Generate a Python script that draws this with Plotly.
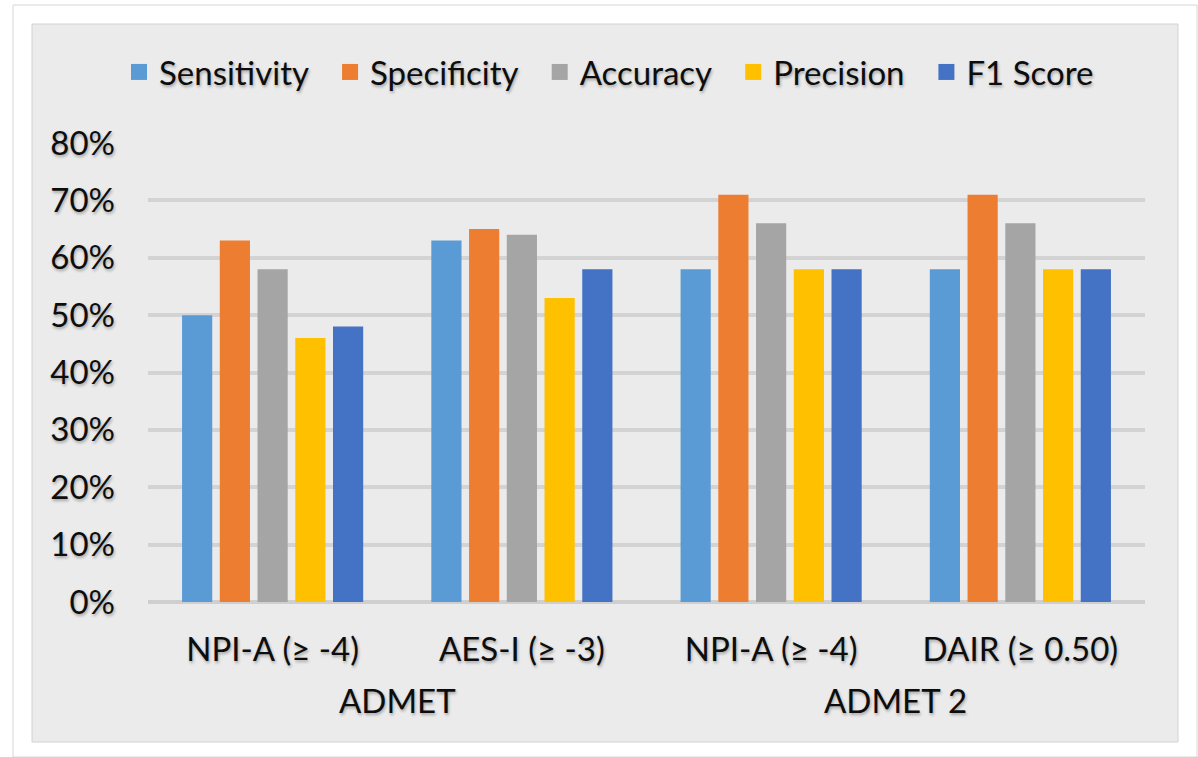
import plotly.graph_objects as go

# Model / endpoint groups and their thresholds
groups = ["ADMET", "ADMET", "ADMET 2", "ADMET 2"]
endpoints = ["NPI-A (≥ -4)", "AES-I (≥ -3)", "NPI-A (≥ -4)", "DAIR (≥ 0.50)"]

# Metric values (fractions)
sensitivity = [0.50, 0.63, 0.58, 0.58]
specificity = [0.63, 0.65, 0.71, 0.71]
accuracy = [0.58, 0.64, 0.66, 0.66]
precision = [0.46, 0.53, 0.58, 0.58]
f1_score = [0.48, 0.58, 0.58, 0.58]

y_ticks = [0, 0.1, 0.2, 0.3, 0.4, 0.5, 0.6, 0.7, 0.8]
y_tick_text = ["0%", "10%", "20%", "30%", "40%", "50%", "60%", "70%", "80%"]

series = [
    ("Sensitivity", sensitivity, "#5B9BD5"),
    ("Specificity", specificity, "#ED7D31"),
    ("Accuracy", accuracy, "#A5A5A5"),
    ("Precision", precision, "#FFC000"),
    ("F1 Score", f1_score, "#4472C4"),
]

W, H = 1198, 757
L, R, T, B = 148, 1145, 143, 602
PW, PH = R - L, B - T


def px_x(px):
    return (px - L) / PW


def px_y(py):
    return (B - py) / PH


FONT = "Lato, 'Open Sans', sans-serif"
FS = 33
TXT = "#0d0d0d"
SHADOW = "1px 2px 3px rgba(0,0,0,0.30)"
PANEL = "#ebebeb"
LEGEND_PAD = "\u00a0\u00a0"  # extra room between legend entries

x_pos = list(range(len(endpoints)))

fig = go.Figure()
for name, vals, color in series:
    fig.add_trace(go.Bar(
        x=x_pos, y=vals, name=name, showlegend=False,
        marker=dict(color=color, line=dict(width=0)),
        hovertemplate="%{y:.0%}<extra>" + name + "</extra>",
    ))

# Legend keys as square swatches
for i, (name, vals, color) in enumerate(series):
    label = name + (LEGEND_PAD if i < len(series) - 1 else "")
    fig.add_trace(go.Scatter(
        x=[None], y=[None], mode="markers", name=label,
        marker=dict(symbol="square", size=18, color=color),
        hoverinfo="skip",
    ))

# Outer white card and inner grey panel
fig.add_shape(type="rect", xref="paper", yref="paper", layer="below",
              x0=px_x(13), x1=px_x(1197), y0=px_y(757), y1=px_y(5),
              fillcolor="white", line=dict(color="#d6d6d6", width=1))
fig.add_shape(type="rect", xref="paper", yref="paper", layer="below",
              x0=px_x(32), x1=px_x(1178), y0=px_y(742), y1=px_y(24),
              fillcolor=PANEL, line=dict(color="#d2d2d2", width=1))

# Group labels below the endpoint labels
for gname in dict.fromkeys(groups):
    idx = [i for i, g in enumerate(groups) if g == gname]
    fig.add_annotation(
        x=sum(x_pos[i] for i in idx) / len(idx), xref="x",
        y=px_y(700), yref="paper", yanchor="middle",
        text=gname, showarrow=False,
        font=dict(family=FONT, size=FS, color=TXT, shadow=SHADOW),
    )

fig.update_layout(
    width=W, height=H,
    margin=dict(l=L, r=W - R, t=T, b=H - B, pad=0),
    paper_bgcolor="white",
    plot_bgcolor=PANEL,
    barmode="group",
    bargap=0.243,
    bargroupgap=0.2,
    font=dict(family=FONT, size=FS, color=TXT),
    legend=dict(
        orientation="h",
        x=px_x(609), xanchor="center",
        y=px_y(72), yanchor="middle",
        bgcolor="rgba(0,0,0,0)",
        font=dict(family=FONT, size=FS, color=TXT, shadow=SHADOW),
        itemclick=False, itemdoubleclick=False,
        traceorder="normal", itemsizing="trace",
    ),
    showlegend=True,
)

fig.update_xaxes(
    tickmode="array", tickvals=x_pos, ticktext=endpoints,
    range=[-0.5, len(endpoints) - 0.5],
    showgrid=False, zeroline=False, showline=False,
    ticks="", ticklabelstandoff=25,
    tickfont=dict(family=FONT, size=FS, color=TXT, shadow=SHADOW),
)
fig.update_yaxes(
    range=[0, 0.8],
    tickmode="array", tickvals=y_ticks, ticktext=y_tick_text,
    showgrid=True, gridcolor="#d3d3d3", gridwidth=4,
    zeroline=True, zerolinecolor="#cfcfcf", zerolinewidth=4,
    showline=False, ticks="", ticklabelstandoff=32,
    tickfont=dict(family=FONT, size=FS, color=TXT, shadow=SHADOW),
)

fig.write_html("out.html")
